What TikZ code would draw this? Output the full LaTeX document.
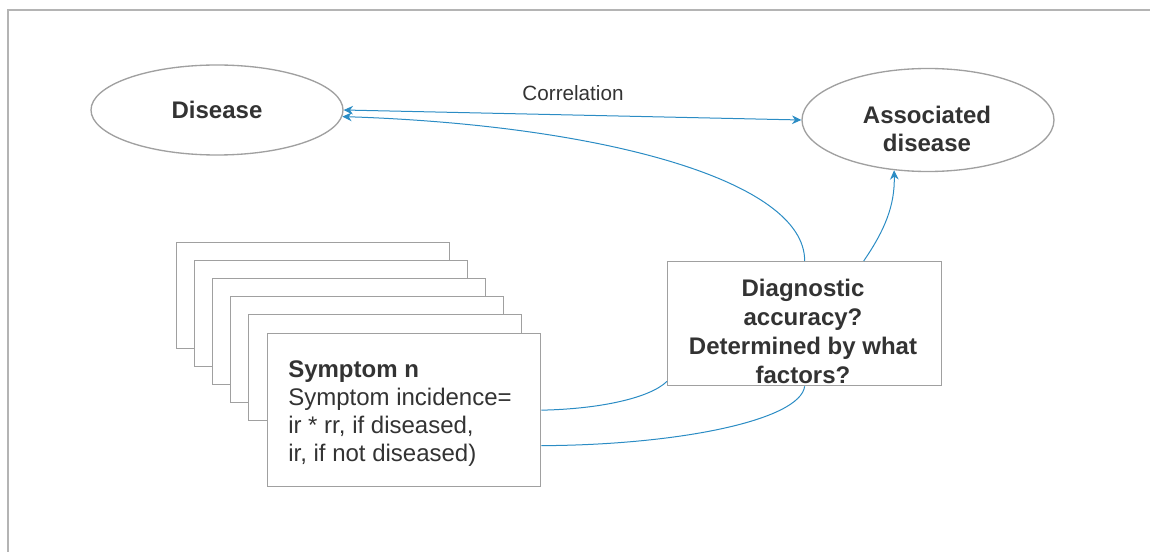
\documentclass[tikz,border=0pt]{standalone}
\usepackage{fontspec}
\setmainfont{Liberation Sans}
\usepackage{xcolor}
\usetikzlibrary{shapes.geometric,arrows.meta,calc}

\definecolor{linkblue}{HTML}{2B8CC4}
\definecolor{edgegray}{HTML}{A0A0A0}
\definecolor{framegray}{HTML}{B4B4B4}
\definecolor{textgray}{HTML}{333333}

\begin{document}
\begin{tikzpicture}[x=0.75pt,y=0.75pt,yscale=-1,xscale=1,
		oval/.style={draw=edgegray, line width=1pt, ellipse, inner sep=0pt, fill=white, text=textgray, font=\fontsize{18}{21}\selectfont\bfseries, align=center},
		card/.style={draw=edgegray, line width=1pt, fill=white, anchor=north west, inner sep=0pt, minimum width=204.75pt},
		conn/.style={draw=linkblue, line width=0.75pt},
		onehead/.style={-{Stealth[length=7pt,width=6.5pt]}},
		twohead/.style={{Stealth[length=7pt,width=6.5pt]}-{Stealth[length=7pt,width=6.5pt]}}
	]
		\useasboundingbox (0,0) rectangle (1150,552);
		\draw [draw=framegray, line width=1.5pt] (8,552) -- (8,10) -- (1150,10);

		\node [oval, minimum width=189pt, minimum height=67.5pt] (dis) at (217,110) {Disease};
		\node [oval, minimum width=189pt, minimum height=77.25pt] (assoc) at (928,120) {};
		\node [align=center, text=textgray, font=\fontsize{18}{21}\selectfont\bfseries, inner sep=0pt] (assoctext) at (927,129) {Associated\\disease};
		\node [font=\fontsize{15.5}{18}\selectfont, text=textgray] (corr) at (573,93) {Correlation};

		\foreach \i in {0,...,4}
			\node [card, minimum height=79.5pt] (s\i) at ({176+18*\i},{242+18*\i}) {};
		\node [card, minimum height=114.75pt] (sym) at (267,333) {};
		\node [anchor=west, align=left, text=textgray, font=\fontsize{18}{21}\selectfont, inner sep=0pt] (symtext) at (288,414) {\textbf{Symptom n}\\Symptom incidence=\\ir * rr, if diseased,\\ir, if not diseased)};

		\node [card, minimum width=205.5pt, minimum height=93pt] (diag) at (667,261) {};
		\node [align=center, text=textgray, font=\fontsize{18}{21.75}\selectfont\bfseries, inner sep=0pt] (diagtext) at (803,331) {Diagnostic\\accuracy?\\Determined by what\\factors?};

		\draw [conn, twohead] (dis.east) -- (assoc.west);
		\draw [conn, onehead] (diag.north) .. controls (805,180) and (600,125) .. (dis.-3);
		\draw [conn, onehead] ($(diag.north)+(59,0)$) .. controls (885,230) and (895,205) .. (assoc.-124);
		\draw [conn] (sym.east) .. controls (600,409) and (650,398) .. ($(diag.south west)+(0,-5)$);
		\draw [conn] ($(sym.east)+(0,35.5)$) .. controls (680,445) and (800,420) .. (diag.south);
	\end{tikzpicture}
\end{document}
